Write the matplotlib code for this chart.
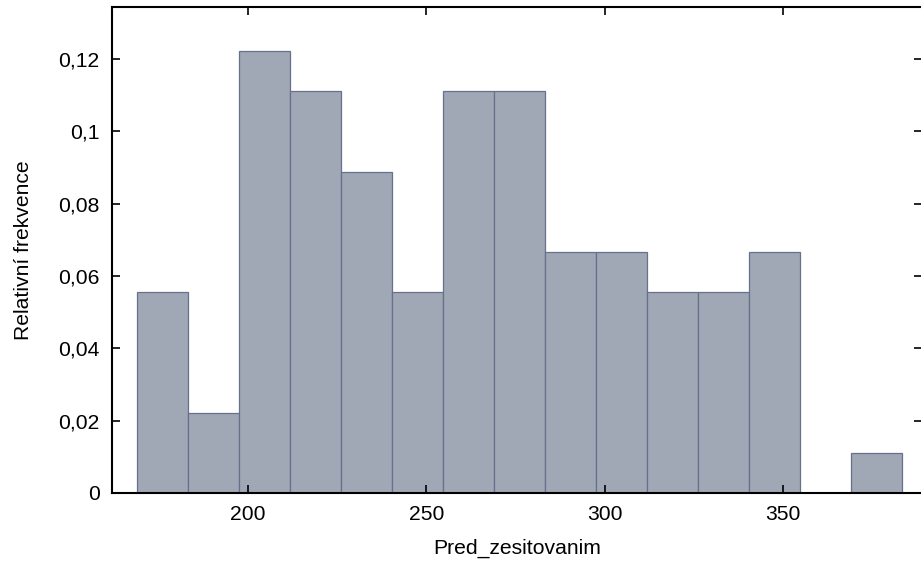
import numpy as np
import matplotlib
matplotlib.use("Agg")
import matplotlib.pyplot as plt
from matplotlib.ticker import FuncFormatter

plt.rcParams['font.family'] = ['Liberation Sans', 'DejaVu Sans']

# Histogram of Pred_zesitovanim: 15 equal-width bins, relative frequencies
bin_low = 169.0
bin_high = 383.3
n_bins = 15
rel_freq = [0.0556, 0.0222, 0.1222, 0.1111, 0.0889, 0.0556, 0.1111, 0.1111,
            0.0667, 0.0667, 0.0556, 0.0556, 0.0667, 0.0, 0.0111]
x_ticks = [200, 250, 300, 350]
y_ticks = [0, 0.02, 0.04, 0.06, 0.08, 0.10, 0.12]

edges = np.linspace(bin_low, bin_high, n_bins + 1)
widths = np.diff(edges)

fig = plt.figure(figsize=(9.21, 5.63), dpi=100)
ax = fig.add_axes([112 / 921, 70 / 563, 810 / 921, 486 / 563])

ax.bar(edges[:-1], rel_freq, width=widths, align='edge',
       color='#a0a7b5', edgecolor='#66718b', linewidth=0.9)

ax.set_xlim(161.9, 389.0)
ax.set_ylim(0, max(rel_freq) * 1.1)
ax.set_xticks(x_ticks)
ax.set_yticks(y_ticks)

fmt = FuncFormatter(lambda v, p: ('%g' % round(v, 4)).replace('.', ','))
ax.yaxis.set_major_formatter(fmt)

for s in ax.spines.values():
    s.set_linewidth(1.5)
    s.set_color('black')

ax.tick_params(direction='in', length=6, width=1.2, top=True, right=True,
               labelsize=15.2, pad=9, colors='black')

ax.set_xlabel('Pred_zesitovanim', fontsize=15.2, labelpad=10)
ax.set_ylabel('Relativní frekvence', fontsize=15.2, labelpad=18)

fig.savefig('out.png', dpi=100)
